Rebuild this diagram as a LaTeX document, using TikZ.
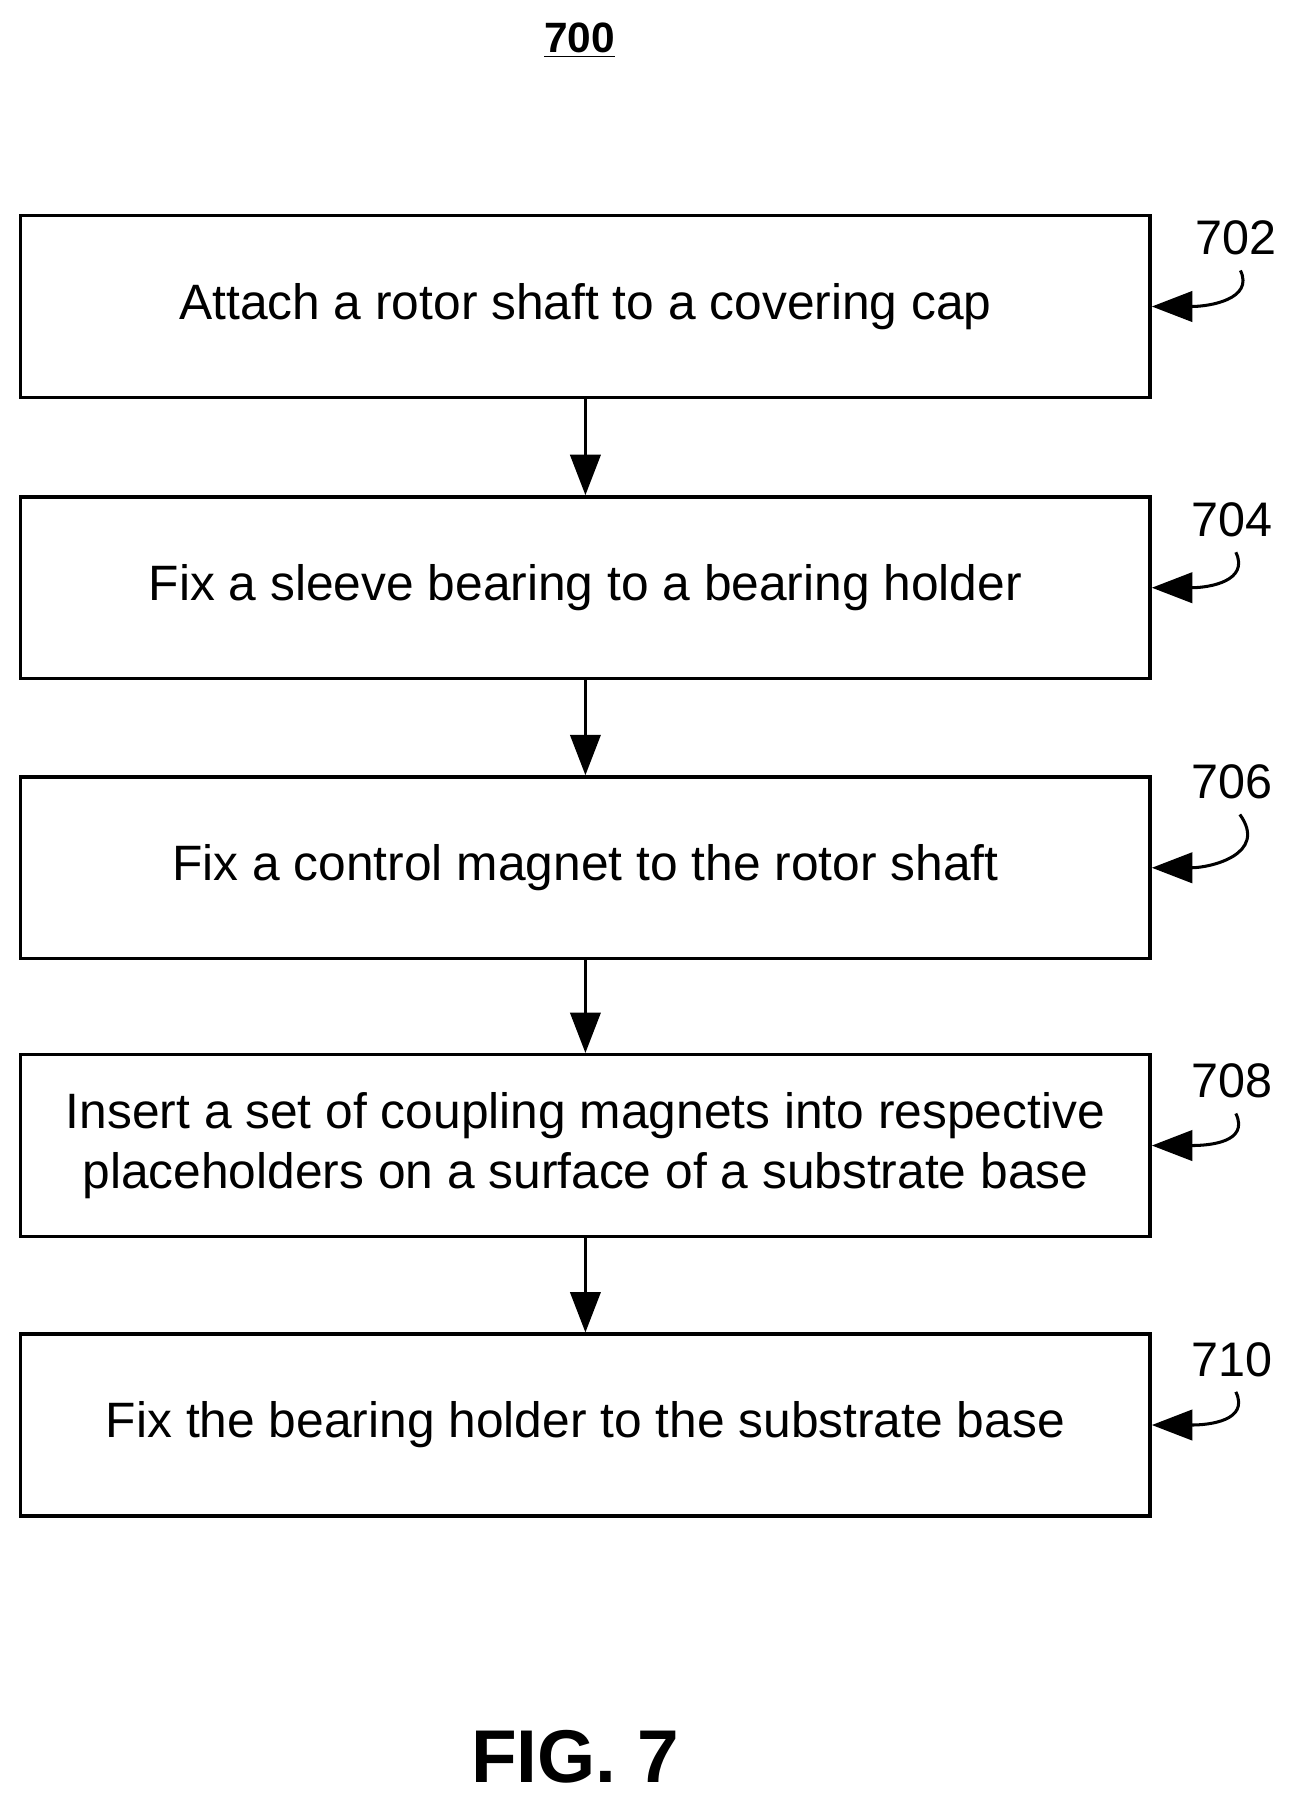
\documentclass[tikz,border=0pt]{standalone}
\usepackage{fontspec}
\setmainfont{Liberation Sans}
\usetikzlibrary{arrows.meta}
\begin{document}
\begin{tikzpicture}[x=0.02cm,y=-0.02cm,
  box/.style={draw,line width=1.7pt,minimum width=982*0.02cm,minimum height=158*0.02cm,align=center,font=\fontsize{24.6}{30}\selectfont,inner sep=0},
  arr/.style={line width=1.5pt,-{Triangle[length=20pt,width=15pt]}},
  lab/.style={font=\fontsize{24}{28}\selectfont}]
\useasboundingbox (0,0) rectangle (1130,1572);
\node[font=\fontsize{21}{24}\selectfont\bfseries] (t) at (504,35) {\underline{700}};
\node[box] (b1) at (509,266.5) {Attach a rotor shaft to a covering cap};
\node[box] (b2) at (509,511) {Fix a sleeve bearing to a bearing holder};
\node[box] (b3) at (509,754.5) {Fix a control magnet to the rotor shaft};
\node[box] (b4) at (509,996) {Insert a set of coupling magnets into respective\\placeholders on a surface of a substrate base};
\node[box] (b5) at (509,1239) {Fix the bearing holder to the substrate base};
\draw[arr] (b1) -- (b2);
\draw[arr] (b2) -- (b3);
\draw[arr] (b3) -- (b4);
\draw[arr] (b4) -- (b5);
\node[lab] (l1) at (1075,207) {702};
\node[lab] (l2) at (1071,452) {704};
\node[lab] (l3) at (1071,680) {706};
\node[lab] (l4) at (1071,940) {708};
\node[lab] (l5) at (1071,1182) {710};
\foreach \i in {1,2,4,5}{
  \draw[arr] ([xshift=2pt,yshift=-4pt]l\i.south) .. controls +(12,25) and +(50,0) .. (b\i.east);
}
\draw[arr] ([xshift=4pt,yshift=-4pt]l3.south) .. controls +(25,35) and +(50,0) .. (b3.east);
\node[font=\fontsize{37}{42}\selectfont\bfseries] (f) at (500,1527) {FIG. 7};
\end{tikzpicture}
\end{document}
